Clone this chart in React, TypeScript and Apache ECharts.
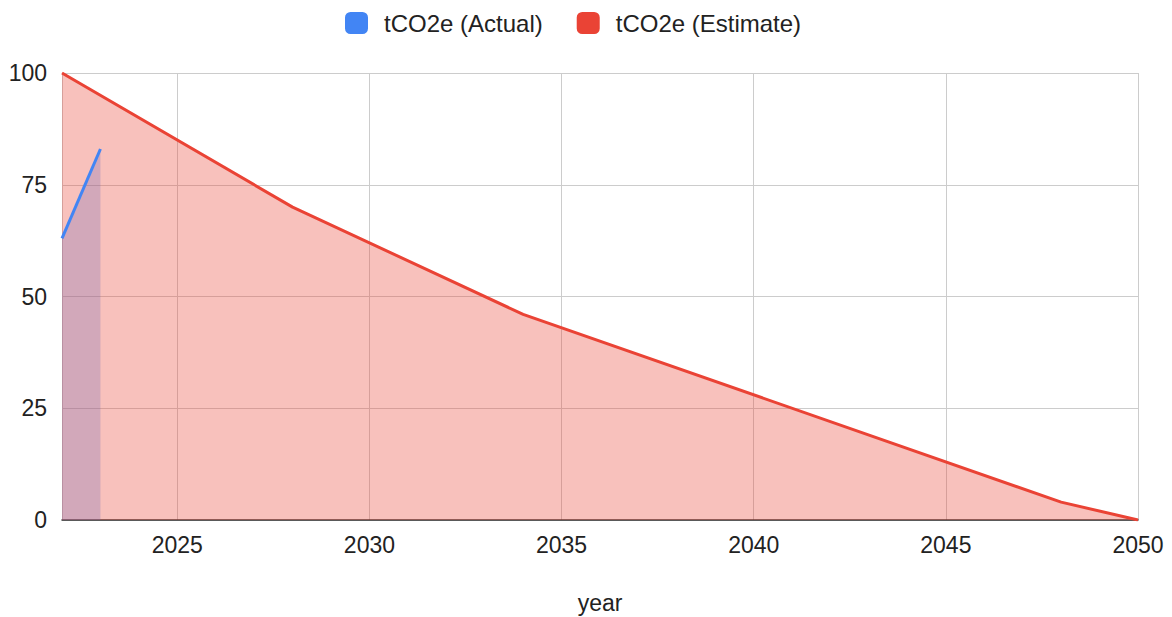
import React, { useEffect, useRef } from "react";
import * as echarts from "echarts";

const actualYears = [2022, 2023];
const actualValues = [63, 83];
const estimateYears = [2022, 2028, 2034, 2048, 2050];
const estimateValues = [100, 70, 46, 4, 0];
const yTicks = [0, 25, 50, 75, 100];

const BLUE = "#4285f4";
const RED = "#ea4335";
const FONT = "'Liberation Sans', Arial, sans-serif";

export default function App() {
  const ref = useRef<HTMLDivElement>(null);
  useEffect(() => {
    if (!ref.current) return;
    const chart = echarts.init(ref.current, undefined, { renderer: "svg" });
    const actual = actualYears.map((y, i) => [y, actualValues[i]]);
    const estimate = estimateYears.map((y, i) => [y, estimateValues[i]]);
    chart.setOption({
      animation: false,
      textStyle: { fontFamily: FONT },
      legend: {
        top: 6,
        left: 340,
        itemWidth: 23,
        itemHeight: 22,
        itemGap: 34,
        icon: "roundRect",
        data: [
          { name: "tCO2e (Actual)", itemStyle: { color: BLUE } },
          { name: "tCO2e (Estimate)", itemStyle: { color: RED } },
        ],
        textStyle: { fontSize: 24, color: "#222", fontFamily: FONT, padding: [0, 0, 0, 11] },
      },
      grid: {
        left: 62,
        right: 34,
        top: 73,
        bottom: 97,
        containLabel: false,
        outerBoundsMode: "none",
      },
      xAxis: {
        type: "value",
        min: 2022,
        max: 2050,
        splitNumber: 5,
        name: "year",
        nameLocation: "middle",
        nameGap: 71,
        nameTextStyle: { fontSize: 23, color: "#222", fontFamily: FONT },
        axisLine: { show: true, lineStyle: { color: "#333", width: 1.5 } },
        axisTick: { show: false },
        axisLabel: {
          fontSize: 23,
          color: "#222",
          margin: 13,
          fontFamily: FONT,
          formatter: (v: number) => (v % 5 === 0 ? String(v) : ""),
        },
        splitLine: { show: true, lineStyle: { color: "#cccccc", width: 1 } },
      },
      yAxis: {
        type: "value",
        min: yTicks[0],
        max: yTicks[yTicks.length - 1],
        interval: 25,
        axisLine: { show: false },
        axisTick: { show: false },
        axisLabel: { fontSize: 23, color: "#222", margin: 15, fontFamily: FONT },
        splitLine: { show: true, lineStyle: { color: "#cccccc", width: 1 } },
      },
      series: [
        {
          name: "tCO2e (Actual)",
          type: "line",
          data: actual,
          showSymbol: false,
          symbol: "none",
          lineStyle: { width: 0, color: BLUE },
          itemStyle: { color: BLUE },
          areaStyle: { color: BLUE, opacity: 0.3 },
          z: 2,
        },
        {
          name: "tCO2e (Estimate)",
          type: "line",
          data: estimate,
          showSymbol: false,
          symbol: "none",
          lineStyle: { width: 3, color: RED },
          itemStyle: { color: RED },
          areaStyle: { color: RED, opacity: 0.33 },
          z: 3,
        },
        {
          name: "tCO2e (Actual)",
          type: "line",
          data: actual,
          showSymbol: false,
          symbol: "none",
          lineStyle: { width: 3, color: BLUE },
          itemStyle: { color: BLUE },
          z: 4,
        },
      ],
    });
    return () => chart.dispose();
  }, []);
  return (
    <div
      ref={ref}
      style={{ position: "absolute", top: 0, left: 0, width: 1172, height: 617 }}
    />
  );
}
